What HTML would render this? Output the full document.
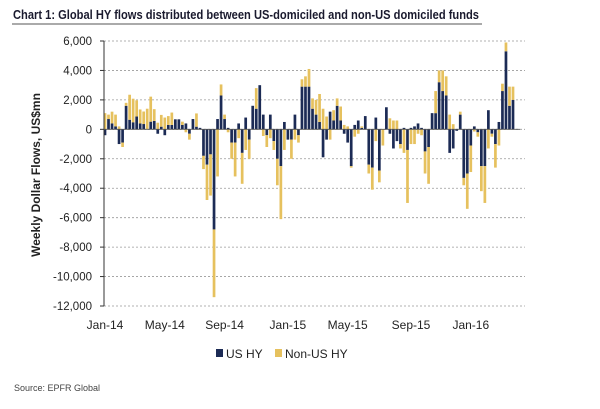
<!DOCTYPE html>
<html><head><meta charset="utf-8"><style>
html,body{margin:0;padding:0;background:#fff;}
svg{display:block;font-family:"Liberation Sans",sans-serif;}
</style></head><body>
<svg id="chart" width="600" height="409" viewBox="0 0 600 409">
<text x="13" y="19" font-size="13" font-weight="bold" fill="#1a1a2e" textLength="466" lengthAdjust="spacingAndGlyphs">Chart 1: Global HY flows distributed between US-domiciled and non-US domiciled funds</text>
<line x1="12" y1="24" x2="482" y2="24" stroke="#555" stroke-width="1"/>
<g id="grid"></g>
<g id="bars"></g>
<g id="axes"></g>
<text transform="translate(40,175) rotate(-90)" text-anchor="middle" font-size="12" font-weight="bold" fill="#222">Weekly Dollar Flows, US$mn</text>
<g>
<rect x="216" y="349" width="7" height="8" fill="#1c2b55"/>
<text x="226" y="358" font-size="12" fill="#222">US HY</text>
<rect x="275" y="349" width="7" height="8" fill="#e6c15e"/>
<text x="285" y="358" font-size="12" fill="#222">Non-US HY</text>
</g>
<text x="14" y="391" font-size="9" fill="#444">Source: EPFR Global</text>
</svg>
<script>
const usHY=[-400,700,400,200,-1000,-900,1600,650,480,870,400,360,0,520,570,-300,180,-400,300,300,680,680,300,400,-300,700,180,100,-1800,-2400,-1700,-6800,700,2300,700,100,-900,-900,
400,-1600,800,-700,1600,1400,3000,1000,-400,1000,-800,-2000,-2500,500,-700,-700,1000,-400,2900,2900,2900,1400,1000,500,-1900,-700,1200,600,1600,600,-300,-900,-2500,300,600,100,900,-2400,-2600,800,
-2800,0,1500,-300,-1300,-800,-1000,100,-1400,100,200,400,100,-1500,-1200,1100,1100,3200,2600,2300,-1600,-1300,-100,1000,-3300,-3000,-1100,200,-200,-2500,-2500,1300,-300,-1000,500,2600,5300,1600,2000];
const nonUSHY=[1100,300,800,800,200,-300,200,1700,1600,1100,950,850,1400,1700,800,450,800,800,600,840,0,0,220,-200,-400,0,900,0,-900,-2400,-2800,-4600,-3200,750,300,-200,-1100,-2300,
-600,-2100,-1400,-1300,0,1400,0,-450,-800,-600,-600,-1800,-3600,-1400,0,-1300,-700,-500,500,700,1200,700,1000,1900,1400,870,-700,700,500,950,300,200,-100,-500,-300,100,0,-600,-1500,-800,
-800,-1100,0,750,600,600,-300,-1600,-3600,-1000,-1000,-300,-400,-1500,-2500,0,1500,800,1400,1300,1000,350,0,200,-500,-2400,-1800,-150,-300,-1700,-2500,-1300,-200,-1600,-1100,500,600,1300,900];
const yTicks=[6000,4000,2000,0,-2000,-4000,-6000,-8000,-10000,-12000];
const xLabels=["Jan-14","May-14","Sep-14","Jan-15","May-15","Sep-15","Jan-16"];
const xLabelWeeks=[0,17,34,52,69,87,104];

const NS="http://www.w3.org/2000/svg";
const Y0=41,Y1=306,VMAX=6000,VMIN=-12000;
function y(v){return Y0+(VMAX-v)*(Y1-Y0)/(VMAX-VMIN);}
const X0=105,STEP=(513-105)/116;
function x(i){return X0+i*STEP;}
function mk(tag,attrs,parent){const e=document.createElementNS(NS,tag);for(const k in attrs)e.setAttribute(k,attrs[k]);parent.appendChild(e);return e;}
const grid=document.getElementById('grid'),bars=document.getElementById('bars'),axes=document.getElementById('axes');
yTicks.forEach(v=>{
  if(v!==VMIN){const g=mk('line',{x1:104,x2:525,y1:y(v),y2:y(v),stroke:'#999','stroke-width':0.8,'stroke-dasharray':'2,2'},grid);
  
  }
  const t=mk('line',{x1:100,x2:104,y1:y(v),y2:y(v),stroke:'#333','stroke-width':1},axes);
  
  
  const l=mk('text',{x:92,y:y(v)+4,'text-anchor':'end','font-size':11.5,fill:'#222'},axes);
  l.textContent=v.toLocaleString('en-US');
  
  
});
const bl=mk('line',{x1:104,x2:525,y1:y(VMIN),y2:y(VMIN),stroke:'#999','stroke-width':0.8,'stroke-dasharray':'2,2'},grid);


const ax=mk('line',{x1:104,x2:104,y1:y(VMAX),y2:y(VMIN),stroke:'#333','stroke-width':1},axes);


const zl=mk('line',{x1:104,x2:520,y1:y(0),y2:y(0),stroke:'#555','stroke-width':0.8},axes);


xLabels.forEach((s,i)=>{
  const t=mk('text',{x:x(xLabelWeeks[i]),y:329,'text-anchor':'middle','font-size':12,fill:'#222'},axes);
  t.textContent=s;
  
  
});
const BW=2.7;
usHY.forEach((u,i)=>{
  const n=nonUSHY[i];
  let pos=0,neg=0;
  function seg(v,col,name){
    if(!v)return;
    let a,b;
    if(v>0){a=pos;b=pos+v;pos=b;}else{a=neg;b=neg+v;neg=b;}
    const top=y(Math.max(a,b)),bot=y(Math.min(a,b));
    const r=mk('rect',{x:x(i)-BW/2,y:top,width:BW,height:Math.max(bot-top,0.5),fill:col},bars);
    
    
  }
  seg(u,'#1c2b55','bar-us-hy');
  seg(n,'#e6c15e','bar-non-us-hy');
});
</script>
</body></html>
